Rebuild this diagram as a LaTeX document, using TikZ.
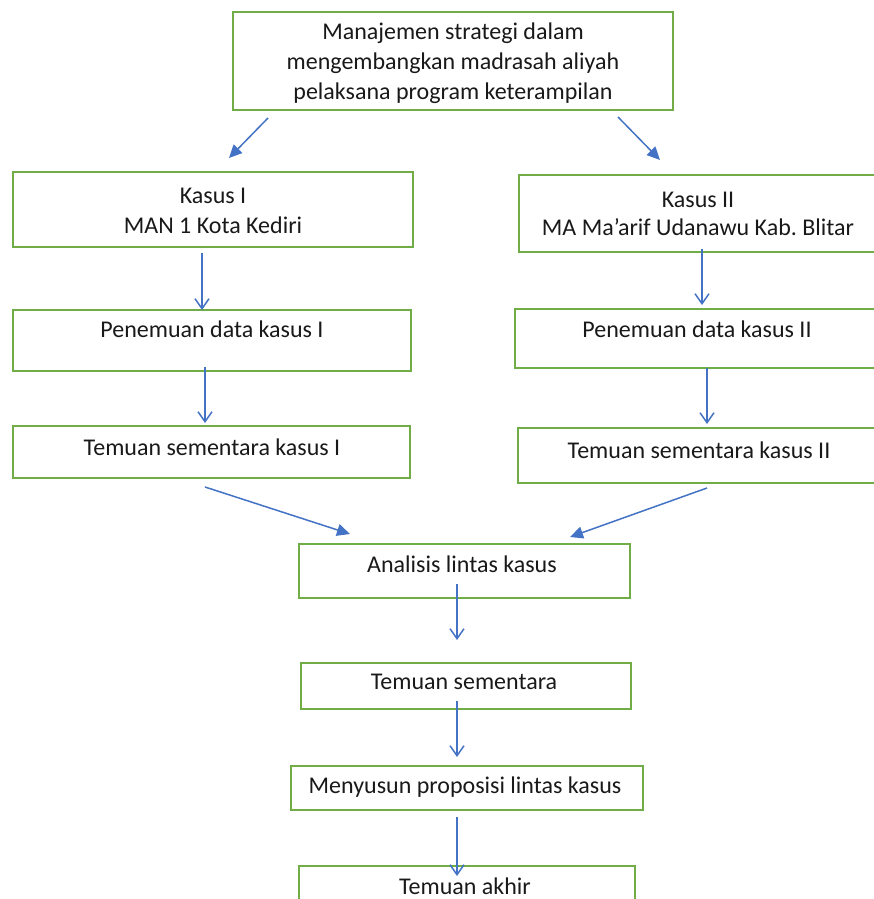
\documentclass[tikz,border=0pt]{standalone}
\usepackage{fontspec}
\setmainfont{Carlito}
\frenchspacing
\usetikzlibrary{arrows.meta}
\definecolor{boxgreen}{HTML}{70AD47}
\definecolor{arrblue}{HTML}{4472C4}
\begin{document}
\begin{tikzpicture}[x=1pt,y=-1pt,
  box/.style={draw=boxgreen,line width=1.8pt,anchor=north west,inner sep=0pt,outer sep=0pt},
  txt/.style={anchor=base,inner sep=0pt,font=\fontsize{24}{29.5}\selectfont,text=black!90},
  tri/.style={draw=arrblue,line width=1.5pt,-{Triangle[length=13pt,width=12pt]}},
  vee/.style={draw=arrblue,line width=1.5pt,-{Straight Barb[length=10pt,width=14pt,line width=1.5pt]}}]
\useasboundingbox (0,0) rectangle (874,899);
\clip (0,0) rectangle (874,899);
% boxes
\node[box,minimum width=440pt,minimum height=98pt] (top) at (233,12) {};
\node[box,minimum width=400pt,minimum height=75pt] (k1) at (13,172) {};
\node[box,minimum width=370pt,minimum height=77pt] (k2) at (519,175) {};
\node[box,minimum width=398pt,minimum height=61pt] (p1) at (13,310) {};
\node[box,minimum width=370pt,minimum height=59pt] (p2) at (515,309) {};
\node[box,minimum width=397pt,minimum height=52pt] (t1) at (13,426) {};
\node[box,minimum width=370pt,minimum height=55pt] (t2) at (518,428) {};
\node[box,minimum width=331pt,minimum height=54pt] (an) at (299,544) {};
\node[box,minimum width=330pt,minimum height=46pt] (ts) at (301,663) {};
\node[box,minimum width=352pt,minimum height=44pt] (me) at (291,766) {};
\node[box,minimum width=336pt,minimum height=60pt] (ta) at (299,866) {};
% texts
\node[txt] (toptxt1) at (453,40) {Manajemen strategi dalam};
\node[txt] (toptxt2) at (453,69.5) {mengembangkan madrasah aliyah};
\node[txt] (toptxt3) at (453,99) {pelaksana program keterampilan};
\node[txt] (k1txt1) at (213,203) {Kasus I};
\node[txt] (k1txt2) at (213,233) {MAN 1 Kota Kediri};
\node[txt] (k2txt1) at (698,207) {Kasus II};
\node[txt] (k2txt2) at (698,235) {MA Ma’arif Udanawu Kab. Blitar};
\node[txt] (p1txt) at (212,337) {Penemuan data kasus I};
\node[txt] (p2txt) at (697,337) {Penemuan data kasus II};
\node[txt] (t1txt) at (212,455) {Temuan sementara kasus I};
\node[txt] (t2txt) at (699,458) {Temuan sementara kasus II};
\node[txt] (antxt) at (462,572) {Analisis lintas kasus};
\node[txt] (tstxt) at (464,689) {Temuan sementara};
\node[txt] (metxt) at (465,793) {Menyusun proposisi lintas kasus};
\node[txt] (tatxt) at (465,894) {Temuan akhir};
% connector end points
\coordinate (a1s) at (268,118); \coordinate (a1e) at (229,158);
\coordinate (a2s) at (618,117); \coordinate (a2e) at (660,160);
\coordinate (a3s) at (202,253); \coordinate (a3e) at (202,310);
\coordinate (a4s) at (702,249); \coordinate (a4e) at (702,305);
\coordinate (a5s) at (205,367); \coordinate (a5e) at (205,423);
\coordinate (a6s) at (707,368); \coordinate (a6e) at (707,424);
\coordinate (a7s) at (205,487); \coordinate (a7e) at (350,534);
\coordinate (a8s) at (707,488); \coordinate (a8e) at (570,537);
\coordinate (a9s) at (457,584); \coordinate (a9e) at (457,640);
\coordinate (a10s) at (457,701); \coordinate (a10e) at (457,757);
\coordinate (a11s) at (457,817); \coordinate (a11e) at (457,876);
% connectors
\draw[tri] (a1s) -- (a1e);
\draw[tri] (a2s) -- (a2e);
\draw[vee] (a3s) -- (a3e);
\draw[vee] (a4s) -- (a4e);
\draw[vee] (a5s) -- (a5e);
\draw[vee] (a6s) -- (a6e);
\draw[tri] (a7s) -- (a7e);
\draw[tri] (a8s) -- (a8e);
\draw[vee] (a9s) -- (a9e);
\draw[vee] (a10s) -- (a10e);
\draw[vee] (a11s) -- (a11e);
\end{tikzpicture}
\end{document}
